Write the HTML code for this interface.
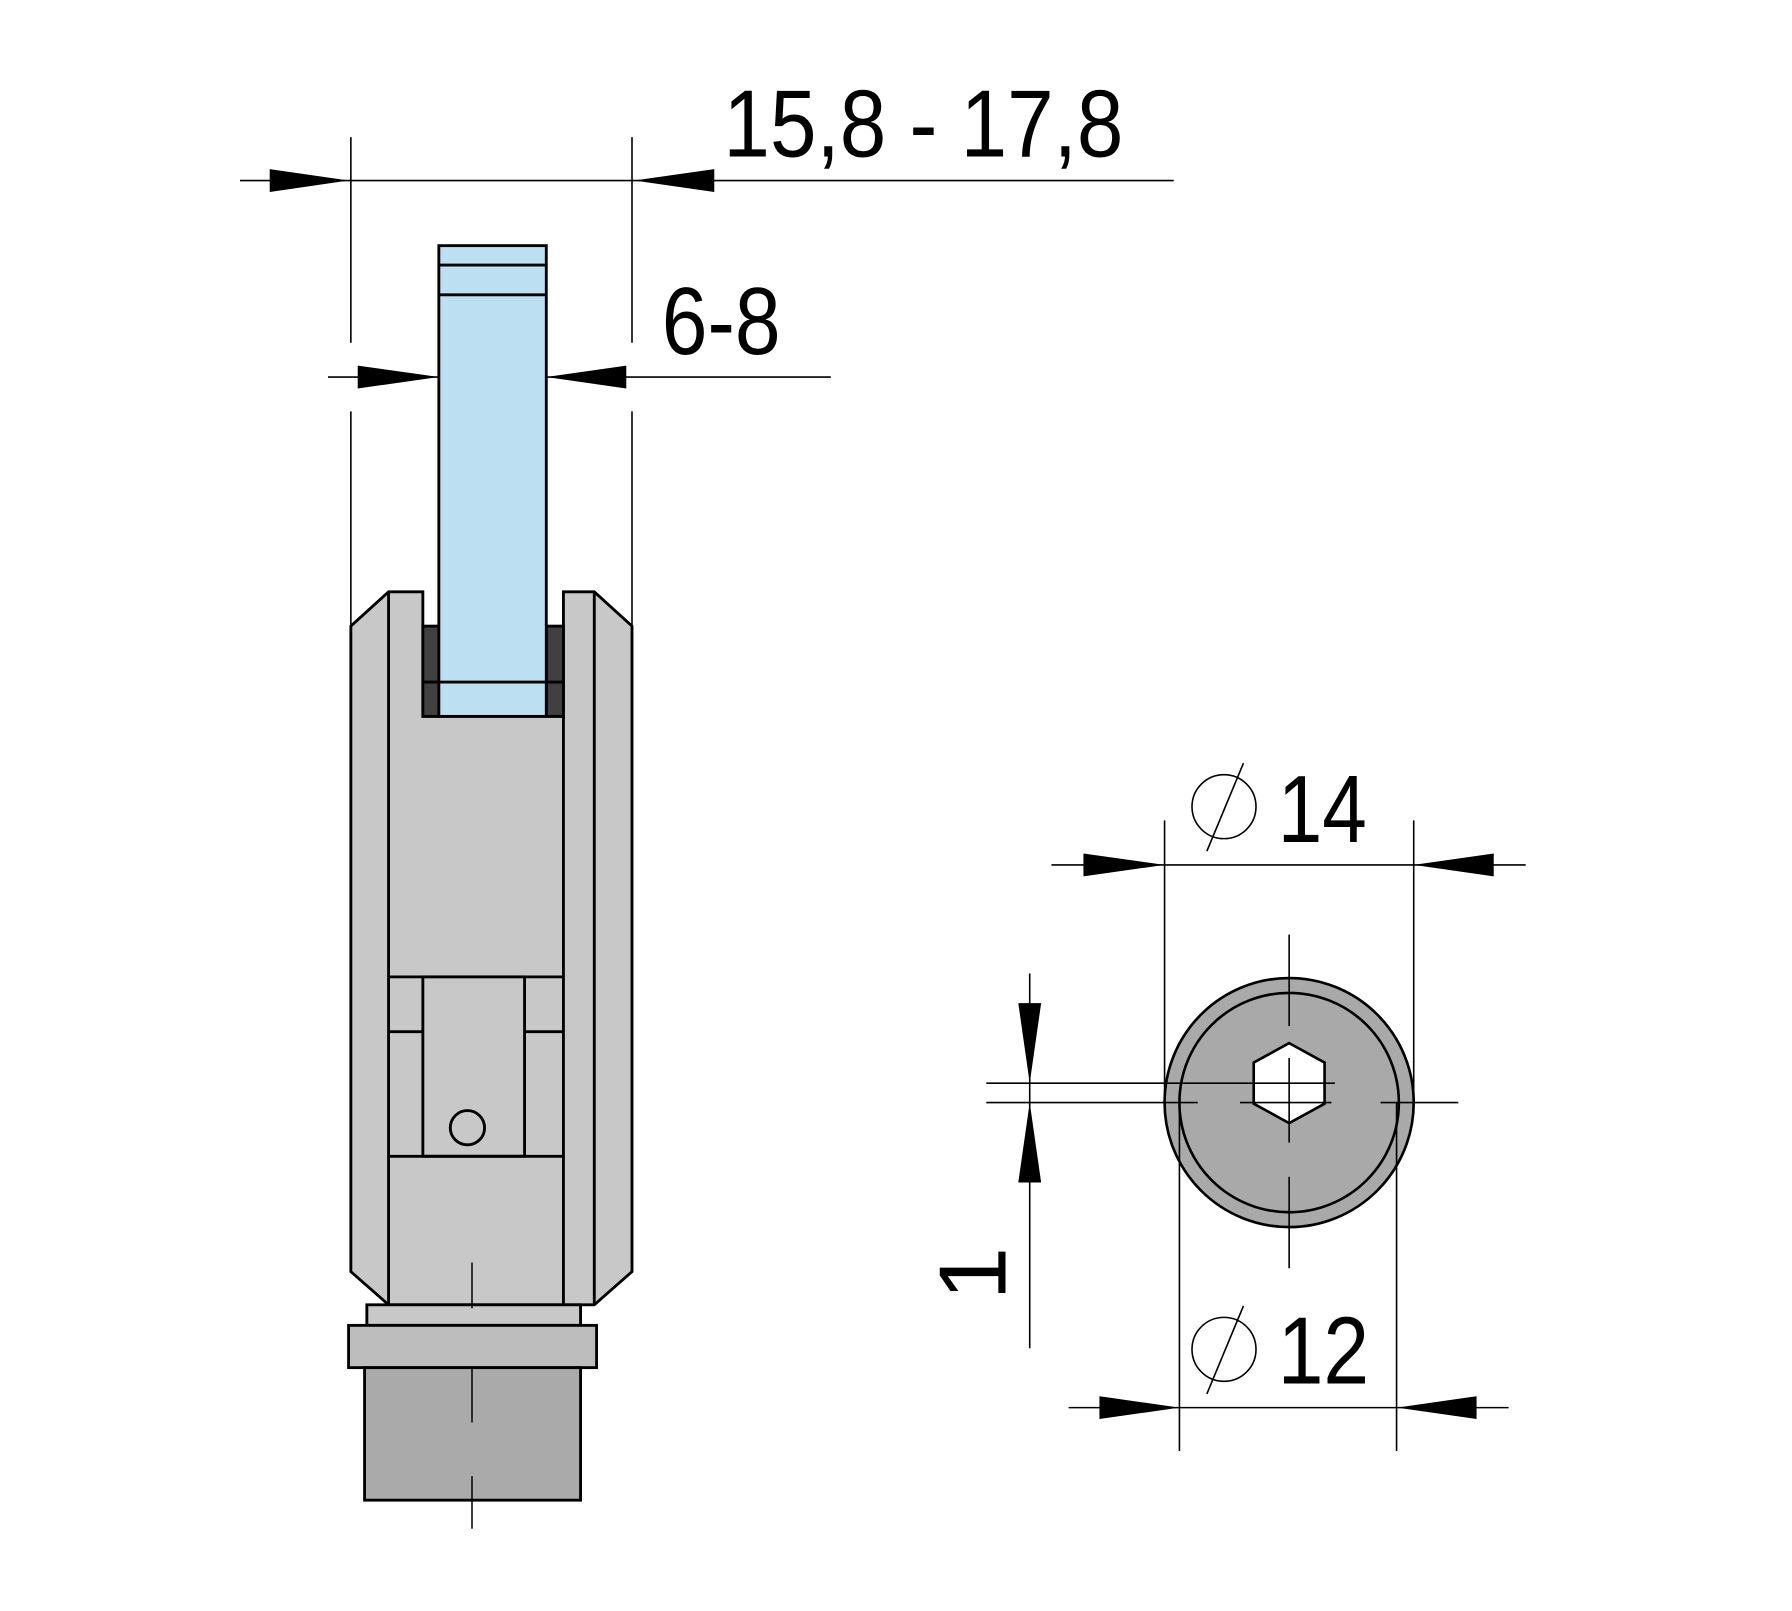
<!DOCTYPE html>
<html><head><meta charset="utf-8"><style>
html,body{margin:0;padding:0;background:#fff;width:1792px;height:1611px;overflow:hidden}
svg{display:block}
text{font-family:"Liberation Sans",sans-serif;fill:#000}
</style></head><body>
<svg width="1792" height="1611" viewBox="0 0 1568 1410" preserveAspectRatio="none" xmlns="http://www.w3.org/2000/svg">
<g stroke="#000" stroke-width="1.4" fill="none">
<line x1="210" y1="158" x2="1027" y2="158"/>
<line x1="307" y1="120" x2="307" y2="300"/>
<line x1="553" y1="120" x2="553" y2="300"/>
<line x1="287" y1="330" x2="727" y2="330"/>
<line x1="307" y1="360" x2="307" y2="548"/>
<line x1="553" y1="360" x2="553" y2="548"/>
</g>
<g fill="#000">
<polygon points="305,158 236,148 236,168"/>
<polygon points="555,158 625,148 625,168"/>
<polygon points="384,330 313,320 313,340"/>
<polygon points="478,330 548,320 548,340"/>
</g>
<text x="633" y="137" font-size="84" textLength="350" lengthAdjust="spacingAndGlyphs">15,8 - 17,8</text>
<text x="579" y="310" font-size="84" textLength="104" lengthAdjust="spacingAndGlyphs">6-8</text>

<g stroke="#000" stroke-width="2.5">
<polygon fill="#c8c8c8" points="307,548 340,518 370,518 370,627 493,627 493,518 520,518 553,548 553,1113 520,1142 340,1142 307,1113"/>
<rect x="370" y="548" width="14" height="79" fill="#404040"/>
<rect x="478" y="548" width="15" height="79" fill="#404040"/>
<line x1="370" y1="597" x2="493" y2="597"/>
<rect x="384" y="215" width="94" height="412" fill="#bddff2"/>
<line x1="384" y1="232" x2="478" y2="232"/>
<line x1="384" y1="258" x2="478" y2="258"/>
<line x1="384" y1="597" x2="478" y2="597"/>
<line x1="340" y1="518" x2="340" y2="1142"/>
<line x1="520" y1="518" x2="520" y2="1142"/>
<line x1="493" y1="627" x2="493" y2="1142"/>
<line x1="340" y1="855" x2="493" y2="855"/>
<rect x="370" y="855" width="89" height="157" fill="#c8c8c8"/>
<line x1="340" y1="903" x2="370" y2="903"/>
<line x1="459" y1="903" x2="493" y2="903"/>
<line x1="340" y1="1012" x2="493" y2="1012"/>
<circle cx="409" cy="987" r="15" fill="none"/>
<rect x="321" y="1142" width="187" height="18" fill="#c8c8c8"/>
<rect x="305" y="1160" width="217" height="37" fill="#bdbdbd"/>
<rect x="319" y="1197" width="189" height="116" fill="#aaaaaa"/>
</g>
<g stroke="#000" stroke-width="1.3">
<line x1="413" y1="1105" x2="413" y2="1145"/>
<line x1="413" y1="1197" x2="413" y2="1245"/>
<line x1="413" y1="1292" x2="413" y2="1338"/>
</g>

<g stroke="#000" stroke-width="2.3">
<circle cx="1128" cy="965" r="109" fill="#a9a9a9"/>
<circle cx="1128" cy="965" r="96" fill="#a9a9a9"/>
<polygon points="1128,913 1159,930 1159,966 1128,983 1097,966 1097,930" fill="#fff"/>
</g>
<g stroke="#000" stroke-width="1.4" fill="none">
<line x1="1128" y1="818" x2="1128" y2="898"/>
<line x1="1128" y1="926" x2="1128" y2="1000"/>
<line x1="1128" y1="1030" x2="1128" y2="1110"/>
<line x1="863" y1="948" x2="1168" y2="948"/>
<line x1="863" y1="965" x2="1048" y2="965"/>
<line x1="1085" y1="965" x2="1165" y2="965"/>
<line x1="1208" y1="965" x2="1276" y2="965"/>
<line x1="901" y1="852" x2="901" y2="1180"/>
<line x1="920" y1="757" x2="1335" y2="757"/>
<line x1="1019" y1="718" x2="1019" y2="965"/>
<line x1="1237" y1="718" x2="1237" y2="965"/>
<line x1="935" y1="1232" x2="1320" y2="1232"/>
<line x1="1032" y1="965" x2="1032" y2="1270"/>
<line x1="1222" y1="965" x2="1222" y2="1270"/>
<circle cx="1071" cy="706" r="28"/>
<line x1="1056" y1="745" x2="1088" y2="668"/>
<circle cx="1071" cy="1181" r="28"/>
<line x1="1056" y1="1220" x2="1088" y2="1143"/>
</g>
<g fill="#000">
<polygon points="901,948 891,878 911,878"/>
<polygon points="901,965 891,1035 911,1035"/>
<polygon points="1019,757 948,747 948,767"/>
<polygon points="1237,757 1307,747 1307,767"/>
<polygon points="1032,1232 962,1222 962,1242"/>
<polygon points="1222,1232 1292,1222 1292,1242"/>
</g>
<text x="1118" y="737" font-size="84" textLength="78" lengthAdjust="spacingAndGlyphs">14</text>
<text x="1118" y="1211" font-size="84" textLength="80" lengthAdjust="spacingAndGlyphs">12</text>
<text transform="translate(880,1138) rotate(-90)" font-size="84">1</text>
</svg>
</body></html>
